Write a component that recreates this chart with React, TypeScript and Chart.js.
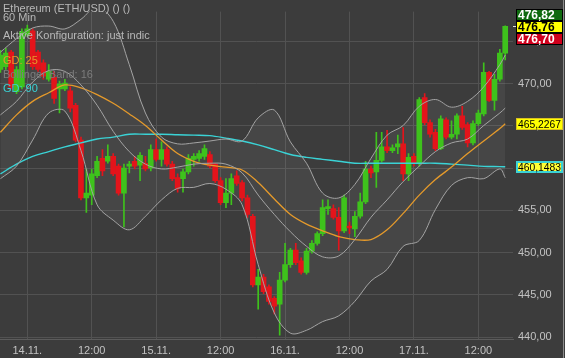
import React, { useEffect, useRef } from "react";
import { Chart, registerables } from "chart.js";

Chart.register(...registerables);

// Hours relative to 14.11. 00:00 — first hourly candle is 13.11. 19:00
const firstCandleHour = -5;

const opens = [
  471.66, 472.0, 473.71, 469.03, 469.6, 475.77, 476.23, 473.71, 472.46, 470.51,
  470.74, 469.37, 469.37, 469.14, 467.43, 463.31, 456.46, 456.8, 459.09, 461.14,
  460.8, 461.37, 460.23, 457.03, 460.23, 460.8, 460.34, 460.57, 460.0, 462.17,
  461.03, 462.17, 460.46, 458.86, 458.74, 459.54, 461.03, 461.14, 461.37, 461.6,
  460.46, 458.51, 455.89, 457.03, 459.09, 458.29, 456.46, 454.29, 446.17, 447.09,
  445.94, 444.57, 443.89, 446.74, 448.57, 450.29, 449.03, 447.66, 450.17, 451.09,
  452.23, 455.2, 455.2, 454.17, 452.57, 453.14, 452.8, 454.29, 456.0, 459.89,
  459.54, 460.91, 462.51, 462.06, 462.51, 462.86, 459.31, 461.37, 460.57, 468.34,
  465.37, 464.23, 462.29, 465.71, 463.66, 464.0, 466.17, 465.14, 462.97, 465.26,
  466.4, 471.31, 468.0, 470.51, 473.6,
];
const highs = [
  473.94, 474.17, 473.94, 472.0, 476.46, 476.91, 476.46, 473.94, 472.8, 472.23,
  471.43, 470.29, 470.51, 469.6, 467.66, 463.66, 459.89, 459.89, 461.37, 462.17,
  462.74, 461.71, 460.46, 460.46, 460.8, 461.37, 461.83, 461.37, 462.74, 463.43,
  463.09, 462.51, 460.8, 459.31, 459.89, 461.6, 461.71, 462.06, 462.74, 461.94,
  460.57, 458.86, 458.74, 459.31, 459.66, 458.51, 456.8, 454.51, 448.0, 447.43,
  446.17, 444.8, 447.66, 451.09, 450.51, 451.09, 449.37, 450.51, 451.43, 452.46,
  456.23, 456.23, 455.66, 455.31, 456.8, 453.6, 454.86, 457.03, 460.8, 460.23,
  464.23, 464.23, 464.46, 462.74, 463.89, 464.8, 461.71, 461.71, 468.34, 468.8,
  465.71, 464.57, 466.17, 465.94, 465.6, 466.4, 467.31, 465.37, 465.6, 466.86,
  472.46, 471.43, 471.09, 474.06, 476.82,
];
const lows = [
  471.31, 471.66, 469.37, 468.8, 469.37, 475.54, 471.66, 471.43, 470.51, 470.29,
  467.66, 466.51, 469.14, 466.63, 463.09, 456.23, 454.74, 455.66, 458.86, 459.09,
  460.57, 459.09, 456.8, 453.03, 459.43, 459.89, 458.51, 459.66, 459.66, 460.8,
  460.23, 460.23, 458.51, 457.14, 457.14, 459.31, 460.23, 460.8, 461.03, 460.0,
  458.29, 455.66, 455.31, 455.66, 457.94, 456.11, 454.17, 445.94, 443.31, 445.14,
  443.89, 442.74, 440.23, 446.51, 448.23, 448.57, 447.43, 447.43, 449.94, 450.86,
  452.0, 454.51, 453.94, 450.29, 452.34, 452.23, 451.89, 454.06, 455.77, 458.86,
  457.71, 460.69, 461.83, 461.83, 461.71, 458.51, 458.51, 460.23, 460.23, 465.14,
  463.66, 462.06, 462.17, 463.43, 463.43, 463.43, 464.57, 462.51, 462.74, 465.03,
  466.17, 467.89, 466.86, 470.29, 472.8,
];
const closes = [
  473.37, 473.6, 469.6, 471.66, 476.11, 476.46, 472.0, 471.66, 470.86, 471.43,
  468.23, 469.94, 470.06, 467.09, 463.31, 456.46, 457.03, 459.31, 460.8, 459.66,
  461.37, 459.31, 457.03, 460.0, 460.46, 460.23, 461.49, 459.89, 462.17, 461.03,
  462.17, 460.46, 458.74, 457.6, 459.54, 461.14, 461.37, 461.71, 462.29, 460.23,
  458.51, 455.89, 457.03, 458.74, 458.17, 456.46, 454.51, 446.17, 447.09, 445.37,
  444.23, 443.66, 446.74, 448.57, 450.29, 448.8, 447.66, 450.17, 451.09, 452.23,
  455.31, 455.43, 454.17, 452.57, 456.46, 452.91, 454.29, 456.0, 459.89, 459.43,
  460.91, 462.51, 462.06, 462.4, 462.86, 459.31, 461.26, 460.57, 468.11, 465.37,
  464.0, 462.29, 465.83, 463.66, 464.0, 466.17, 464.8, 462.97, 465.26, 466.51,
  471.31, 468.0, 470.51, 473.6, 476.76,
];

// Indicator readings (hours relative to 14.11. 00:00)
const lineHours = [
  -5, -2, 1, 4, 7, 10, 13, 16, 19, 22, 25, 28, 31, 34, 37, 40, 43, 46, 49, 52,
  55, 58, 61, 64, 67, 70, 73, 76, 79, 82, 85, 88, 89,
];
const gd25 = [
  464.23, 466.29, 467.89, 468.91, 469.83, 469.49, 468.69, 467.66, 466.4, 465.03,
  463.31, 461.71, 460.8, 460.34, 460.11, 459.77, 458.29, 456.34, 454.51, 453.37,
  452.57, 451.89, 451.54, 451.54, 452.69, 454.63, 456.8, 458.63, 460.11, 461.71,
  463.2, 464.69, 465.2267,
];
const gd90 = [
  459.31, 460.46, 461.37, 461.94, 462.51, 462.97, 463.43, 463.66, 464.0, 464.0,
  464.0, 463.94, 463.89, 463.83, 463.54, 463.2, 462.74, 462.17, 461.6, 461.26,
  461.03, 460.8, 460.57, 460.57, 460.57, 460.57, 460.57, 460.57, 460.46, 460.34,
  460.2, 460.17, 460.1483,
];
const bbUpper = [
  473.71, 475.31, 476.57, 476.8, 476.46, 477.6, 479.09, 477.37, 472.23, 466.51,
  463.66, 462.86, 462.97, 463.2, 463.43, 463.2, 465.94, 466.86, 463.09, 460.57,
  457.03, 456.46, 458.06, 461.14, 463.89, 465.03, 467.31, 468.11, 467.2, 467.89,
  469.6, 472.23, 473.37,
];
const bbMiddle = [
  466.29, 467.89, 470.17, 471.54, 471.43, 469.83, 467.43, 464.34, 461.94, 460.46,
  459.89, 460.11, 460.46, 460.57, 460.46, 459.43, 456.8, 454.51, 452.46, 450.74,
  449.49, 449.6, 451.54, 454.17, 456.23, 458.4, 460.23, 461.94, 462.97, 463.43,
  465.03, 466.51, 467.09,
];
const bbLower = [
  458.74, 460.23, 463.31, 466.51, 466.74, 462.06, 455.66, 453.83, 452.69, 454.29,
  456.23, 457.6, 457.71, 458.17, 457.49, 455.66, 448.57, 442.86, 440.46, 440.8,
  441.83, 442.51, 444.23, 446.63, 448.0, 450.74, 451.43, 455.09, 457.94, 458.86,
  458.74, 459.89, 458.86,
];

const xTickHours = [0, 12, 24, 36, 48, 60, 72, 84];
const xTickLabels = ["14.11.", "12:00", "15.11.", "12:00", "16.11.", "12:00", "17.11.", "12:00"];
const yTickValues = [440, 445, 450, 455, 460, 465, 470, 475];

// price tags on the right axis
const quoteValues = [476.82, 476.76, 476.7]; // ask, last, bid
const quoteDecimals = 2;
const indicatorTagValues = [465.2267, 460.1483]; // GD 25, GD 90
const indicatorDecimals = 4;

const headerLines = [
  "Ethereum (ETH/USD) () ()",
  "60 Min",
  "Aktive Konfiguration: just indic",
  "GD: 25",
  "Bollinger Band: 16",
  "GD: 90",
];

const BG = "#3c3c3c";
const GRID = "#525252";
const TICK = "#c2c2c2";
const UP = "#3ec21c";
const DOWN = "#e3141b";
const BAND = "#a4a4a4";
const C25 = "#e59a2b";
const C90 = "#3ad3d6";
const FONT = '"Liberation Sans", Arial, sans-serif';

const fmt = (v: number, d: number) => v.toFixed(d).replace(".", ",");

const overlayPlugin = {
  id: "overlay",
  afterDraw(chart: any) {
    const ctx = chart.ctx as CanvasRenderingContext2D;
    const area = chart.chartArea;
    const ys = chart.scales.y;
    ctx.save();

    // header texts
    const headerStyle = [
      { c: "#b8b8b8", y: 12 },
      { c: "#b8b8b8", y: 21 },
      { c: "#b8b8b8", y: 39 },
      { c: C25, y: 64 },
      { c: "#7c7c7c", y: 78 },
      { c: C90, y: 92 },
    ];
    ctx.font = "11px " + FONT;
    ctx.textBaseline = "alphabetic";
    ctx.textAlign = "left";
    headerLines.forEach((t, i) => {
      ctx.fillStyle = headerStyle[i].c;
      ctx.fillText(t, 3, headerStyle[i].y);
    });

    // right border line
    ctx.strokeStyle = "#8c8c8c";
    ctx.lineWidth = 1;
    ctx.beginPath();
    ctx.moveTo(563.5, 0);
    ctx.lineTo(563.5, chart.height);
    ctx.stroke();

    const boxX = area.right + 3;
    const boxW = 47;
    const boxH = 12;
    const drawTag = (text: string, cy: number, bg: string, fg: string, border: string, bw: number, font: string) => {
      const top = Math.round(cy - boxH / 2);
      ctx.fillStyle = bg;
      ctx.fillRect(boxX, top, boxW, boxH);
      ctx.strokeStyle = border;
      ctx.lineWidth = bw;
      ctx.strokeRect(boxX + bw / 2, top + bw / 2, boxW - bw, boxH - bw);
      ctx.fillStyle = fg;
      ctx.font = font;
      ctx.textBaseline = "middle";
      ctx.textAlign = "left";
      ctx.fillText(text, boxX + 2, top + boxH / 2 + 0.5, boxW - 4);
    };

    // indicator tags
    drawTag(fmt(indicatorTagValues[0], indicatorDecimals), ys.getPixelForValue(indicatorTagValues[0]), "#ffff00", "#000", "#d8c020", 1, "11px " + FONT);
    drawTag(fmt(indicatorTagValues[1], indicatorDecimals), ys.getPixelForValue(indicatorTagValues[1]), "#ffff33", "#000", C90, 2, "11px " + FONT);

    // quote tags stacked around last price
    const lastY = ys.getPixelForValue(quoteValues[1]);
    const quoteStyle = [
      { bg: "#0e6a0e", fg: "#ffffff", off: -boxH },
      { bg: "#ffff00", fg: "#000000", off: 0 },
      { bg: "#d0001c", fg: "#ffffff", off: boxH },
    ];
    quoteValues.forEach((v, i) => {
      drawTag(fmt(v, quoteDecimals), lastY + quoteStyle[i].off + 1, quoteStyle[i].bg, quoteStyle[i].fg, "#000000", 1, "bold 12px " + FONT);
    });
    // last price marker
    ctx.strokeStyle = "#e0e0e0";
    ctx.lineWidth = 1;
    ctx.beginPath();
    ctx.moveTo(area.right, Math.round(lastY) + 0.5);
    ctx.lineTo(area.right + 3, Math.round(lastY) + 0.5);
    ctx.stroke();

    ctx.restore();
  },
};

export default function App() {
  const ref = useRef<HTMLCanvasElement>(null);

  useEffect(() => {
    document.body.style.margin = "0";
    const canvas = ref.current!;
    const hours = opens.map((_, i) => firstCandleHour + i);
    const colors = opens.map((o, i) => (closes[i] >= o ? UP : DOWN));
    const wickData = hours.map((h, i) => ({ x: h, y: [lows[i], highs[i]] }));
    const bodyData = hours.map((h, i) => ({ x: h, y: [opens[i], closes[i]] }));
    const line = (vals: number[]) => lineHours.map((h, i) => ({ x: h, y: vals[i] }));

    const chart = new Chart(canvas, {
      type: "bar",
      data: {
        datasets: [
          {
            type: "line",
            label: "BB upper",
            data: line(bbUpper),
            borderColor: BAND,
            borderWidth: 1,
            pointRadius: 0,
            tension: 0.35,
            fill: { target: 1 },
            backgroundColor: "rgba(255,255,255,0.055)",
            order: 0,
          } as any,
          {
            type: "line",
            label: "BB lower",
            data: line(bbLower),
            borderColor: BAND,
            borderWidth: 1,
            pointRadius: 0,
            tension: 0.35,
            fill: false,
            order: 0,
          },
          {
            type: "line",
            label: "BB middle",
            data: line(bbMiddle),
            borderColor: BAND,
            borderWidth: 1,
            pointRadius: 0,
            tension: 0.35,
            fill: false,
            order: 0,
          },
          {
            type: "line",
            label: "GD 25",
            data: line(gd25),
            borderColor: C25,
            borderWidth: 1.3,
            pointRadius: 0,
            tension: 0.35,
            fill: false,
            order: 0,
          },
          {
            type: "line",
            label: "GD 90",
            data: line(gd90),
            borderColor: C90,
            borderWidth: 1.4,
            pointRadius: 0,
            tension: 0.35,
            fill: false,
            order: 0,
          },
          {
            type: "bar",
            label: "wick",
            data: wickData as any,
            backgroundColor: colors,
            barThickness: 1,
            grouped: false,
            minBarLength: 1,
            order: 2,
          } as any,
          {
            type: "bar",
            label: "body",
            data: bodyData as any,
            backgroundColor: colors,
            barThickness: 5,
            grouped: false,
            minBarLength: 1,
            order: 1,
          } as any,
        ],
      },
      options: {
        responsive: false,
        animation: false,
        devicePixelRatio: 1,
        layout: { padding: 0 },
        plugins: {
          legend: { display: false },
          tooltip: { enabled: false },
          filler: { drawTime: "beforeDatasetsDraw" } as any,
        },
        scales: {
          x: {
            type: "linear",
            min: -5.08,
            max: 90.45,
            offset: false,
            grid: { color: GRID, offset: false, drawTicks: false },
            border: { display: true, color: "#5c5c5c" },
            ticks: {
              color: TICK,
              font: { size: 11, family: FONT },
              padding: 5,
              maxRotation: 0,
              autoSkip: false,
              callback: (_v: any, i: number) => xTickLabels[i],
            },
            afterBuildTicks: (s: any) => {
              s.ticks = xTickHours.map((v) => ({ value: v }));
            },
            afterFit: (s: any) => {
              s.height = 19;
            },
          } as any,
          y: {
            type: "linear",
            position: "right",
            min: 439.77,
            max: 478.51,
            grid: { color: GRID, drawTicks: false },
            border: { display: false },
            ticks: {
              color: TICK,
              font: { size: 11, family: FONT },
              padding: 5,
              autoSkip: false,
              callback: (v: any) => fmt(Number(v), 2),
            },
            afterBuildTicks: (s: any) => {
              s.ticks = yTickValues.map((v) => ({ value: v }));
            },
            afterFit: (s: any) => {
              s.width = 52;
            },
          } as any,
        },
      },
      plugins: [overlayPlugin],
    });
    return () => chart.destroy();
  }, []);

  return (
    <div style={{ width: 565, height: 358, background: BG }}>
      <canvas ref={ref} width={565} height={358} style={{ display: "block" }} />
    </div>
  );
}
